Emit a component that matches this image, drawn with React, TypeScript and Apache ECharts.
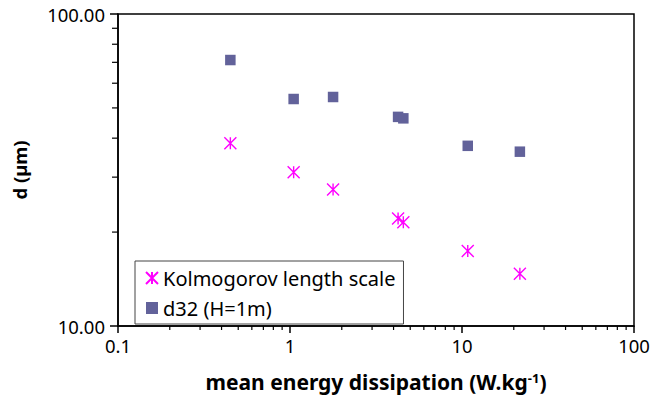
import React, { useEffect, useRef } from "react";
import * as echarts from "echarts";

const dissipation = [0.45, 1.05, 1.78, 4.25, 4.56, 10.8, 21.7];
const kolmogorov = [38.5, 31.1, 27.4, 22.1, 21.5, 17.4, 14.7];
const d32 = [71.2, 53.4, 54.2, 46.8, 46.3, 37.8, 36.2];
const xMinorTicks = [0.2, 0.3, 0.4, 0.5, 0.6, 0.7, 0.8, 0.9, 2, 3, 4, 5, 6, 7, 8, 9, 20, 30, 40, 50, 60, 70, 80, 90];
const yMinorTicks = [20, 30, 40, 50, 60, 70, 80, 90];
const seriesNames = ["Kolmogorov length scale", "d32 (H=1m)"];

const FONT = "Noto Sans";
const STAR = "path://M0,0 L10,10 M10,0 L0,10 M5,0 L5,10";

export default function App() {
  const ref = useRef<HTMLDivElement>(null);
  useEffect(() => {
    if (!ref.current) return;
    const chart = echarts.init(ref.current, null, { renderer: "svg" });
    const option: any = {
      animation: false,
      backgroundColor: "#fff",
      textStyle: { fontFamily: FONT },
      grid: {
        left: 118,
        right: 19,
        top: 14,
        bottom: 75,
        show: true,
        borderColor: "#000",
        borderWidth: 1.5,
        backgroundColor: "transparent",
      },
      legend: {
        orient: "vertical",
        left: 135,
        top: 261,
        data: seriesNames,
        backgroundColor: "#fff",
        borderColor: "#444",
        borderWidth: 1,
        borderRadius: 0,
        padding: [7, 8, 6, 10],
        itemGap: 10,
        itemWidth: 12,
        itemHeight: 12,
        textStyle: { fontFamily: FONT, fontSize: 20, color: "#000", lineHeight: 20 },
      },
      xAxis: {
        type: "log",
        logBase: 10,
        min: 0.1,
        max: 100,
        name: "mean energy dissipation (W.kg{sup|-1})",
        nameLocation: "middle",
        nameGap: 45,
        nameTextStyle: {
          fontFamily: FONT,
          fontSize: 21,
          fontWeight: "bold",
          color: "#000",
          rich: {
            sup: { fontFamily: FONT, fontSize: 13, fontWeight: "bold", color: "#000", verticalAlign: "top", lineHeight: 13 },
          },
        },
        axisLine: { lineStyle: { color: "#000", width: 1.5 } },
        axisTick: { show: true, length: 7, lineStyle: { color: "#000", width: 1.5 } },
        axisLabel: {
          fontFamily: FONT,
          fontSize: 18.5,
          color: "#000",
          margin: 10,
          formatter: (v: number) => (v < 1 ? v.toFixed(1) : v.toFixed(0)),
        },
        splitLine: { show: false },
      },
      yAxis: {
        type: "log",
        logBase: 10,
        min: 10,
        max: 100,
        name: "d (µm)",
        nameLocation: "middle",
        nameGap: 89,
        nameTextStyle: { fontFamily: FONT, fontSize: 18.5, fontWeight: "bold", color: "#000" },
        axisLine: { lineStyle: { color: "#000", width: 1.5 } },
        axisTick: { show: true, length: 8, lineStyle: { color: "#000", width: 1.5 } },
        axisLabel: {
          fontFamily: FONT,
          fontSize: 18.5,
          color: "#000",
          margin: 13,
          formatter: (v: number) => v.toFixed(2),
        },
        splitLine: { show: false },
      },
      series: [
        {
          name: seriesNames[0],
          type: "scatter",
          symbol: STAR,
          symbolSize: 12,
          itemStyle: { color: "#FF00FF", borderColor: "#FF00FF", borderWidth: 1.4, opacity: 1 },
          data: dissipation.map((x, i) => [x, kolmogorov[i]]),
          z: 3,
        },
        {
          name: seriesNames[1],
          type: "scatter",
          symbol: "rect",
          symbolSize: 10.5,
          itemStyle: { color: "#62629A", opacity: 1 },
          data: dissipation.map((x, i) => [x, d32[i]]),
          z: 3,
        },
        {
          type: "custom",
          silent: true,
          data: xMinorTicks.map((v) => [v, 10]),
          encode: { x: 0, y: 1 },
          renderItem: (params: any, api: any) => {
            const p = api.coord([api.value(0), api.value(1)]);
            return {
              type: "line",
              shape: { x1: p[0], y1: p[1], x2: p[0], y2: p[1] + 4 },
              style: { stroke: "#000", lineWidth: 1.2 },
            };
          },
        },
        {
          type: "custom",
          silent: true,
          data: yMinorTicks.map((v) => [0.1, v]),
          encode: { x: 0, y: 1 },
          renderItem: (params: any, api: any) => {
            const p = api.coord([api.value(0), api.value(1)]);
            return {
              type: "line",
              shape: { x1: p[0] - 6, y1: p[1], x2: p[0], y2: p[1] },
              style: { stroke: "#000", lineWidth: 1.2 },
            };
          },
        },
      ],
    };
    chart.setOption(option);
    return () => chart.dispose();
  }, []);
  return <div ref={ref} style={{ width: 653, height: 401, position: "absolute", left: 0, top: 0 }} />;
}
